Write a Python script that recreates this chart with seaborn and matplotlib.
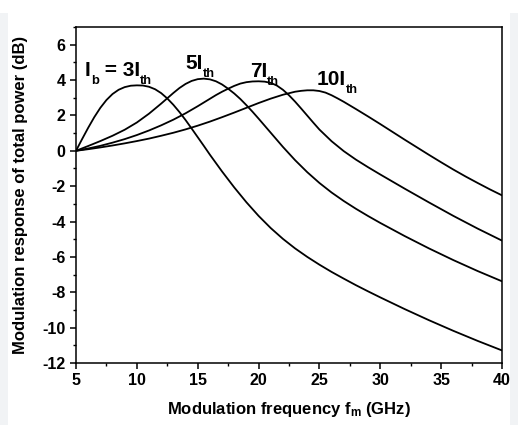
import matplotlib
matplotlib.use("Agg")
import matplotlib.pyplot as plt
import matplotlib.transforms as mtransforms
from matplotlib.ticker import MultipleLocator
from matplotlib.patches import Rectangle
import pandas as pd
import seaborn as sns

# ---------------- data ----------------
bias_names = ["3I_th", "5I_th", "7I_th", "10I_th"]

f_3 = [5, 5.5, 6, 6.5, 7, 7.5, 8, 8.5, 9, 9.5, 10, 10.5, 11, 11.5, 12, 12.5, 13, 13.5,
       14, 14.5, 15, 15.5, 16, 17, 18, 19, 20, 21, 22, 23, 24, 25, 26, 27, 28, 29, 30,
       32, 34, 36, 38, 40]
db_3 = [0, 0.66, 1.30, 1.90, 2.43, 2.87, 3.21, 3.45, 3.60, 3.68, 3.70, 3.69, 3.62,
        3.48, 3.26, 2.96, 2.60, 2.19, 1.74, 1.26, 0.77, 0.28, -0.22, -1.17, -2.07,
        -2.91, -3.68, -4.37, -4.98, -5.52, -6.00, -6.44, -6.85, -7.23, -7.60, -7.95,
        -8.29, -8.95, -9.58, -10.18, -10.75, -11.29]

f_5 = [5, 6, 7, 8, 9, 10, 11, 12, 12.5, 13, 13.5, 14, 14.5, 15, 15.5, 16, 16.5, 17,
       17.5, 18, 18.5, 19, 19.5, 20, 21, 22, 23, 24, 25, 26, 27, 28, 29, 30, 32, 34,
       36, 38, 40]
db_5 = [0, 0.27, 0.55, 0.85, 1.19, 1.60, 2.10, 2.67, 2.97, 3.27, 3.55, 3.78, 3.95,
        4.05, 4.08, 4.04, 3.93, 3.75, 3.51, 3.24, 2.93, 2.58, 2.21, 1.82, 1.02, 0.22,
        -0.53, -1.21, -1.82, -2.36, -2.84, -3.28, -3.69, -4.08, -4.82, -5.52, -6.18,
        -6.80, -7.38]

f_7 = [5, 6, 7, 8, 9, 10, 11, 12, 13, 14, 15, 16, 16.5, 17, 17.5, 18, 18.5, 19, 19.5,
       20, 20.5, 21, 21.5, 22, 22.5, 23, 23.5, 24, 24.5, 25, 26, 27, 28, 29, 30, 32,
       34, 36, 38, 40]
db_7 = [0, 0.13, 0.28, 0.46, 0.66, 0.89, 1.15, 1.44, 1.76, 2.12, 2.52, 2.94, 3.15,
        3.34, 3.51, 3.67, 3.80, 3.88, 3.92, 3.93, 3.91, 3.84, 3.69, 3.45, 3.14, 2.78,
        2.39, 1.99, 1.59, 1.20, 0.54, -0.02, -0.50, -0.93, -1.34, -2.14, -2.92, -3.68,
        -4.40, -5.08]

f_10 = [5, 6, 7, 8, 9, 10, 11, 12, 13, 14, 15, 16, 17, 18, 19, 20, 21, 22, 23, 23.5,
        24, 24.5, 25, 25.5, 26, 26.5, 27, 28, 29, 30, 31, 32, 33, 34, 35, 36, 37, 38,
        39, 40]
db_10 = [0, 0.09, 0.19, 0.30, 0.42, 0.55, 0.69, 0.85, 1.02, 1.21, 1.42, 1.65, 1.90,
         2.16, 2.43, 2.70, 2.95, 3.17, 3.34, 3.39, 3.42, 3.42, 3.38, 3.29, 3.14, 2.96,
         2.77, 2.36, 1.94, 1.51, 1.07, 0.63, 0.20, -0.23, -0.65, -1.06, -1.45, -1.82,
         -2.18, -2.52]

x_ticks = [5, 10, 15, 20, 25, 30, 35, 40]
y_ticks = [-12, -10, -8, -6, -4, -2, 0, 2, 4, 6]

# curve labels: text parts (text, is_subscript)
label_parts = [
    [("I", False), ("b", True), (" = 3I", False), ("th", True)],
    [("5I", False), ("th", True)],
    [("7I", False), ("th", True)],
    [("10I", False), ("th", True)],
]
label_anchor = [(5.74, 4.25), (13.96, 4.65), (19.3, 4.19), (24.8, 3.74)]

# ---------------- style ----------------
sns.set_theme(style="ticks")
plt.rcParams["font.family"] = ["Liberation Sans", "DejaVu Sans"]
plt.rcParams["font.weight"] = "bold"
plt.rcParams["axes.unicode_minus"] = False
plt.rcParams["mathtext.fontset"] = "custom"
plt.rcParams["mathtext.rm"] = "Liberation Sans:bold"
plt.rcParams["mathtext.bf"] = "Liberation Sans:bold"
plt.rcParams["mathtext.it"] = "Liberation Sans:bold"

frames = []
for name, f, d in zip(bias_names, [f_3, f_5, f_7, f_10], [db_3, db_5, db_7, db_10]):
    frames.append(pd.DataFrame({"f": f, "db": d, "bias": name}))
df = pd.concat(frames, ignore_index=True)

fig = plt.figure(figsize=(5.18, 4.38), dpi=100)
fig.patch.set_facecolor("white")
strip_col = "#f1f3f5"
fig.patches.append(Rectangle((0, 13 / 438), 8 / 518, 412 / 438, transform=fig.transFigure,
                             facecolor=strip_col, edgecolor="none", zorder=0))
fig.patches.append(Rectangle((510 / 518, 13 / 438), 8 / 518, 412 / 438, transform=fig.transFigure,
                             facecolor=strip_col, edgecolor="none", zorder=0))

ax = fig.add_axes([76 / 518, 75 / 438, 426 / 518, 336 / 438])
ax.set_facecolor("white")

sns.lineplot(data=df, x="f", y="db", hue="bias", palette=["black"] * 4,
             estimator=None, sort=False, legend=False, linewidth=1.3, ax=ax)

ax.set_xlim(5, 40)
ax.set_ylim(-12, 7)
ax.set_xticks(x_ticks)
ax.set_yticks(y_ticks)
ax.xaxis.set_minor_locator(MultipleLocator(2.5))
ax.yaxis.set_minor_locator(MultipleLocator(1))
ax.tick_params(which="major", direction="out", length=4.5, width=1.1, color="black",
               labelsize=11.5, labelcolor="black", pad=3)
ax.tick_params(which="minor", direction="out", length=2.5, width=1.0, color="black")
ax.tick_params(top=False, right=False, which="both")
for lbl in ax.get_xticklabels() + ax.get_yticklabels():
    lbl.set_fontweight("bold")
for sp in ax.spines.values():
    sp.set_visible(True)
    sp.set_color("black")
    sp.set_linewidth(1.1)

ax.set_xlabel(r"Modulation frequency $\mathbf{f_m}$ (GHz)", fontsize=12,
              fontweight="bold", color="black", labelpad=8)
ax.set_ylabel("Modulation response of total power (dB)", fontsize=12,
              fontweight="bold", color="black", labelpad=10)

renderer = fig.canvas.get_renderer()
label_size = 15


def rich_text(parts, xy, size):
    dx = 0.0
    for txt, sub in parts:
        fs = size * 0.62 if sub else size
        dy = -0.4 * size if sub else 0.0
        tr = mtransforms.offset_copy(ax.transData, fig=fig, x=dx, y=dy, units="points")
        t = ax.text(xy[0], xy[1], txt, transform=tr, fontsize=fs, fontweight="bold",
                    ha="left", va="baseline", color="black")
        bb = t.get_window_extent(renderer=renderer)
        dx += bb.width * 72.0 / fig.dpi


for parts, xy in zip(label_parts, label_anchor):
    rich_text(parts, xy, label_size)

fig.savefig("out.png", dpi=100, facecolor=fig.get_facecolor())
